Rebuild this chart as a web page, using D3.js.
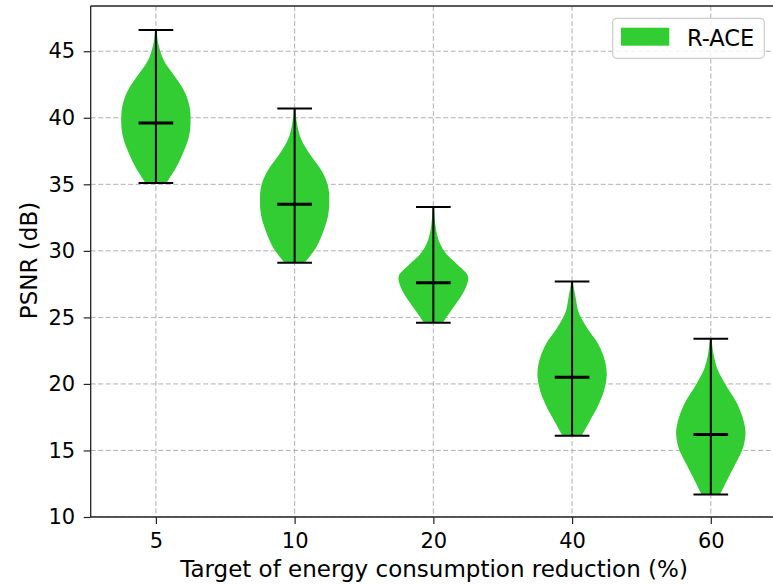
<!DOCTYPE html>
<html>
<head>
<meta charset="utf-8">
<script src="https://cdn.jsdelivr.net/npm/d3@7"></script>
<style>
  html, body { margin: 0; padding: 0; background: #fff; }
  svg { display: block; }
  text { font-family: "DejaVu Sans", sans-serif; fill: #000; }
</style>
</head>
<body>
<script>
// ---- Data ----
const categories = ["5", "10", "20", "40", "60"];
const seriesName = "R-ACE";
const minVals    = [35.1, 29.1, 24.6, 16.1, 11.7];
const maxVals    = [46.6, 40.7, 33.3, 27.7, 23.4];
const medianVals = [39.6, 33.5, 27.6, 20.5, 16.2];
// relative density (0..1), 11 samples evenly spaced from min to max
const density5  = [0.30, 0.58, 0.79, 0.95, 1.00, 0.97, 0.82, 0.53, 0.23, 0.08, 0.02];
const density10 = [0.29, 0.62, 0.82, 0.96, 1.00, 0.96, 0.77, 0.45, 0.19, 0.07, 0.02];
const density20 = [0.27, 0.50, 0.74, 0.93, 1.00, 0.70, 0.36, 0.17, 0.08, 0.04, 0.02];
const density40 = [0.27, 0.52, 0.76, 0.93, 1.00, 0.93, 0.74, 0.43, 0.19, 0.10, 0.02];
const density60 = [0.27, 0.49, 0.72, 0.93, 1.00, 0.91, 0.72, 0.44, 0.20, 0.08, 0.02];
const densities = [density5, density10, density20, density40, density60];
const yTicks = [10, 15, 20, 25, 30, 35, 40, 45];

(function () {
// ---- Layout ----
const W = 773, H = 585;
const mLeft = 90.7, mRight = 776, mTop = 6, mBottom = 517;
const green = "#32cd32";
const tickFont = 21, labelFont = 23, legendFont = 22.5;

const svg = d3.select("body").append("svg").attr("width", W).attr("height", H);

const x = d3.scaleLinear().domain([0.53, 5.47]).range([mLeft, mRight]);
const y = d3.scaleLinear().domain([10, 48.4]).range([mBottom, mTop]);
const positions = categories.map((c, i) => i + 1);

svg.append("clipPath").attr("id", "plotclip")
  .append("rect").attr("x", mLeft).attr("y", mTop).attr("width", mRight - mLeft).attr("height", mBottom - mTop);

// ---- Grid ----
const grid = svg.append("g").attr("clip-path", "url(#plotclip)");
grid.selectAll("line.gy").data(yTicks).enter().append("line")
  .attr("x1", mLeft).attr("x2", mRight)
  .attr("y1", d => y(d)).attr("y2", d => y(d))
  .attr("stroke", "#b0b0b0").attr("stroke-width", 1).attr("stroke-dasharray", "5,2.5");
grid.selectAll("line.gx").data(positions).enter().append("line")
  .attr("x1", d => x(d)).attr("x2", d => x(d))
  .attr("y1", mTop).attr("y2", mBottom)
  .attr("stroke", "#b0b0b0").attr("stroke-width", 1).attr("stroke-dasharray", "5,2.5");

// ---- Violins ----
const halfW = 0.25, capW = 0.125;
const vg = svg.append("g").attr("clip-path", "url(#plotclip)");
categories.forEach((c, i) => {
  const p = positions[i];
  const dens = densities[i];
  const n = dens.length;
  const pts = dens.map((d, k) => ({
    v: minVals[i] + (maxVals[i] - minVals[i]) * k / (n - 1),
    d: d
  }));
  const area = d3.area()
    .y(d => y(d.v))
    .x0(d => x(p - halfW * d.d))
    .x1(d => x(p + halfW * d.d))
    .curve(d3.curveCatmullRom.alpha(0.5));
  vg.append("path").datum(pts).attr("d", area).attr("fill", green).attr("stroke", "none");

  vg.append("line").attr("x1", x(p)).attr("x2", x(p))
    .attr("y1", y(minVals[i])).attr("y2", y(maxVals[i]))
    .attr("stroke", "#000").attr("stroke-width", 2);
  [minVals[i], maxVals[i]].forEach(v => {
    vg.append("line").attr("x1", x(p - capW)).attr("x2", x(p + capW))
      .attr("y1", y(v)).attr("y2", y(v))
      .attr("stroke", "#000").attr("stroke-width", 2);
  });
  vg.append("line").attr("x1", x(p - capW)).attr("x2", x(p + capW))
    .attr("y1", y(medianVals[i])).attr("y2", y(medianVals[i]))
    .attr("stroke", "#000").attr("stroke-width", 3);
});

// ---- Axes ----
const yAxis = d3.axisLeft(y).tickValues(yTicks).tickSize(7).tickPadding(8.5);
const gy = svg.append("g").attr("transform", `translate(${mLeft},0)`).call(yAxis);
gy.select(".domain").remove();
gy.selectAll(".tick line").attr("stroke", "#222").attr("stroke-width", 1.2);
gy.selectAll(".tick text").attr("font-size", tickFont).attr("font-family", "DejaVu Sans").attr("fill", "#000");

const xAxis = d3.axisBottom(x).tickValues(positions).tickFormat((d, i) => categories[i]).tickSize(7).tickPadding(9);
const gx = svg.append("g").attr("transform", `translate(0,${mBottom})`).call(xAxis);
gx.select(".domain").remove();
gx.selectAll(".tick line").attr("stroke", "#222").attr("stroke-width", 1.2);
gx.selectAll(".tick text").attr("font-size", tickFont).attr("font-family", "DejaVu Sans").attr("fill", "#000");

// spines
svg.append("line").attr("x1", mLeft).attr("x2", mLeft).attr("y1", mTop).attr("y2", mBottom)
  .attr("stroke", "#222").attr("stroke-width", 1.3);
svg.append("line").attr("x1", mLeft).attr("x2", mRight).attr("y1", mBottom).attr("y2", mBottom)
  .attr("stroke", "#222").attr("stroke-width", 1.3);
svg.append("line").attr("x1", mLeft).attr("x2", mRight).attr("y1", mTop).attr("y2", mTop)
  .attr("stroke", "#222").attr("stroke-width", 1.3);

// axis labels
svg.append("text").attr("x", 434).attr("y", 577)
  .attr("text-anchor", "middle").attr("font-size", labelFont)
  .text("Target of energy consumption reduction (%)");
svg.append("text")
  .attr("transform", `translate(37,260.5) rotate(-90)`)
  .attr("text-anchor", "middle").attr("font-size", labelFont)
  .text("PSNR (dB)");

// ---- Legend ----
const lg = svg.append("g");
lg.append("rect").attr("x", 612.7).attr("y", 18.3).attr("width", 151.6).attr("height", 40)
  .attr("rx", 4).attr("fill", "#fff").attr("fill-opacity", 0.8)
  .attr("stroke", "#cccccc").attr("stroke-width", 1.2);
lg.append("rect").attr("x", 621).attr("y", 27.7).attr("width", 48.3).attr("height", 18)
  .attr("fill", green);
lg.append("text").attr("x", 687).attr("y", 45.5).attr("font-size", legendFont).text(seriesName);
})();
</script>
</body>
</html>
